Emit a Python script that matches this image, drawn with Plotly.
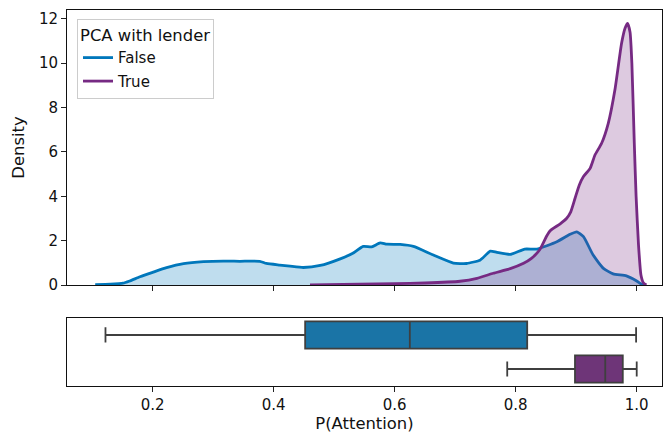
import plotly.graph_objects as go

# Kernel density estimates of P(Attention), split by "PCA with lender"
false_x = [0.105, 0.13, 0.151, 0.162, 0.179, 0.2, 0.223, 0.251, 0.284, 0.317, 0.344,
           0.377, 0.388, 0.41, 0.427, 0.449, 0.477, 0.51, 0.53, 0.548, 0.562, 0.576,
           0.587, 0.609, 0.631, 0.664, 0.697, 0.719, 0.741, 0.746, 0.758, 0.769,
           0.791, 0.815, 0.835, 0.868, 0.89, 0.901, 0.912, 0.928, 0.945, 0.961,
           0.983, 1.0, 1.008, 1.015]
false_density = [0.02, 0.04, 0.08, 0.18, 0.37, 0.57, 0.78, 0.96, 1.05, 1.08, 1.07,
                 1.07, 0.97, 0.90, 0.85, 0.79, 0.88, 1.18, 1.42, 1.74, 1.72, 1.90,
                 1.84, 1.83, 1.74, 1.35, 0.99, 0.97, 1.12, 1.23, 1.53, 1.47,
                 1.38, 1.62, 1.62, 1.95, 2.29, 2.40, 2.18, 1.35, 0.75, 0.50,
                 0.41, 0.18, 0.04, 0.0]

true_x = [0.46, 0.542, 0.6, 0.65, 0.708, 0.736, 0.763, 0.791, 0.813, 0.826, 0.84,
          0.851, 0.857, 0.873, 0.884, 0.891, 0.898, 0.905, 0.912, 0.923, 0.931,
          0.942, 0.953, 0.964, 0.975, 0.981, 0.985, 0.989, 0.992, 0.996, 0.999,
          1.003, 1.007, 1.011, 1.016]
true_density = [0.01, 0.04, 0.06, 0.09, 0.17, 0.30, 0.53, 0.74, 0.98, 1.2, 1.6,
                2.2, 2.45, 2.75, 3.0, 3.3, 3.9, 4.5, 4.89, 5.26, 5.86,
                6.39, 7.29, 8.8, 10.9, 11.6, 11.8, 11.4, 10.0, 6.4, 4.0,
                1.8, 0.45, 0.1, 0.0]

# Box-plot summaries: whisker low, Q1, median, Q3, whisker high
groups = ["False", "True"]
lower_fence = [0.122, 0.786]
q1 = [0.452, 0.898]
median = [0.625, 0.948]
q3 = [0.819, 0.977]
upper_fence = [0.999, 1.0]

line_colors = ["#0077bb", "#762a83"]
fill_colors = ["rgba(0,119,187,0.25)", "rgba(118,42,131,0.25)"]
box_colors = ["#1a74a6", "#6e3578"]
edge = "#3f3f3f"
font = "DejaVu Sans"
tick_size = 15
label_size = 16.4

fig = go.Figure()

curves = [(false_x, false_density), (true_x, true_density)]
for i, (xs, ys) in enumerate(curves):
    fig.add_trace(go.Scatter(
        x=xs, y=ys, mode="lines", fill="tozeroy", fillcolor=fill_colors[i],
        line=dict(width=0, shape="spline", smoothing=0.5), showlegend=False,
        hoverinfo="skip", xaxis="x", yaxis="y"))
    fig.add_trace(go.Scatter(
        x=xs, y=ys, mode="lines", name=groups[i], legendgroup=groups[i],
        line=dict(color=line_colors[i], width=2.8, shape="spline", smoothing=0.5),
        xaxis="x", yaxis="y"))

for i, g in enumerate(groups):
    fig.add_trace(go.Box(
        y=[g], q1=[q1[i]], median=[median[i]], q3=[q3[i]],
        lowerfence=[lower_fence[i]], upperfence=[upper_fence[i]],
        orientation="h", width=0.8, whiskerwidth=0.56,
        fillcolor=box_colors[i], line=dict(color=edge, width=1.8),
        boxpoints=False, showlegend=False, xaxis="x2", yaxis="y2"))

xrange = [0.0584, 1.0418]
tickvals = [0.2, 0.4, 0.6, 0.8, 1.0]
axis_common = dict(showline=True, linecolor="#111111", linewidth=1, mirror=True,
                   ticks="outside", ticklen=5, tickwidth=1, tickcolor="#222222",
                   showgrid=False, zeroline=False,
                   tickfont=dict(family=font, size=tick_size, color="#111111"))

fig.update_layout(
    width=663, height=436,
    margin=dict(l=67, r=1, t=10, b=50),
    paper_bgcolor="white", plot_bgcolor="white",
    font=dict(family=font, size=tick_size, color="#111111"),
    boxmode="overlay",
    xaxis=dict(domain=[0, 1], anchor="y", range=xrange, tickvals=tickvals,
               showticklabels=False, **axis_common),
    yaxis=dict(domain=[0.2686, 1], anchor="x", range=[0, 12.4],
               tickvals=[0, 2, 4, 6, 8, 10, 12],
               title=dict(text="Density", standoff=10,
                          font=dict(family=font, size=label_size)),
               **axis_common),
    xaxis2=dict(domain=[0, 1], anchor="y2", range=xrange, tickvals=tickvals,
                ticktext=["0.2", "0.4", "0.6", "0.8", "1.0"],
                title=dict(text="P(Attention)", standoff=4,
                           font=dict(family=font, size=label_size)),
                **axis_common),
    yaxis2=dict(domain=[0, 0.1809], anchor="x2", type="category",
                categoryorder="array", categoryarray=groups,
                range=[1.5, -0.5], showline=True, linecolor="#111111",
                linewidth=1, mirror=True, ticks="", showticklabels=False,
                showgrid=False, zeroline=False),
    legend=dict(
        x=0.0168, y=0.976, xanchor="left", yanchor="top",
        bgcolor="rgba(255,255,255,0.8)", bordercolor="#cccccc", borderwidth=1,
        font=dict(family=font, size=tick_size, color="#111111"),
        title=dict(text="PCA with lender", side="top",
                   font=dict(family=font, size=label_size, color="#111111")),
        itemwidth=30, traceorder="grouped", tracegroupgap=1),
)

fig.write_html("out.html")
